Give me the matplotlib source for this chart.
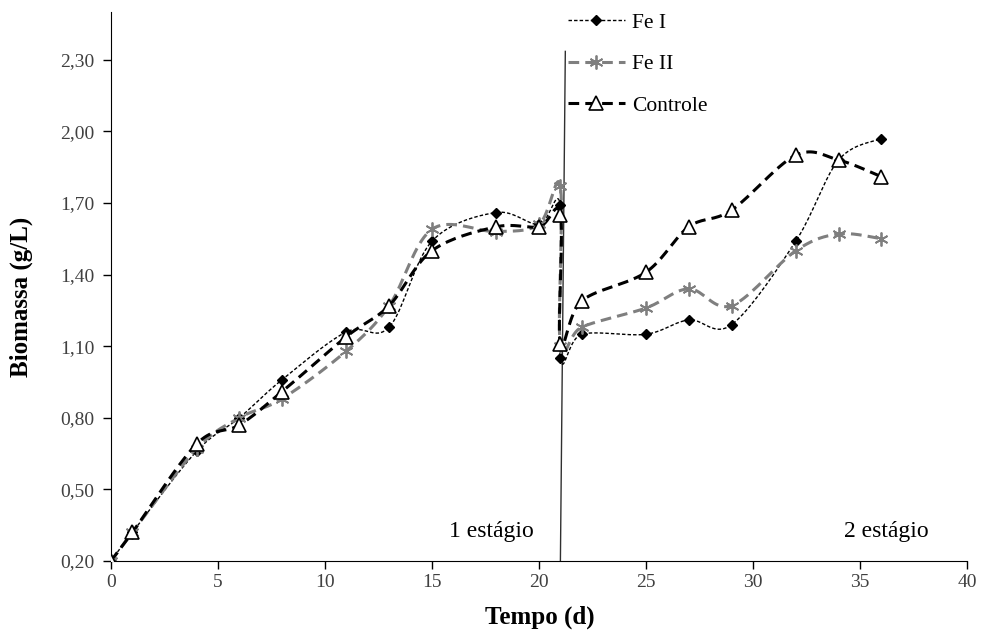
import numpy as np
import matplotlib.pyplot as plt
from matplotlib.lines import Line2D
from matplotlib.ticker import FuncFormatter

plt.rcParams['font.family'] = ['Liberation Serif', 'DejaVu Serif']

# time (d); the stage change at day 21 has a value before and after
tempo = [0, 1, 4, 6, 8, 11, 13, 15, 18, 20, 21, 21, 22, 25, 27, 29, 32, 34, 36]
fe1 = [0.20, 0.32, 0.66, 0.80, 0.96, 1.16, 1.18, 1.54, 1.66, 1.61, 1.69, 1.05,
       1.15, 1.15, 1.21, 1.19, 1.54, 1.88, 1.97]
fe2 = [0.20, 0.32, 0.67, 0.80, 0.88, 1.08, 1.27, 1.59, 1.58, 1.61, 1.77, 1.10,
       1.18, 1.26, 1.34, 1.27, 1.50, 1.57, 1.55]
controle = [0.20, 0.32, 0.69, 0.77, 0.91, 1.14, 1.27, 1.50, 1.60, 1.60, 1.65, 1.11,
            1.29, 1.41, 1.60, 1.67, 1.90, 1.88, 1.81]

# separator between the two stages (hand drawn, slightly slanted)
estagio_x = [21.0, 21.23]
estagio_y = [0.2, 2.335]
y_ticks = [0.20, 0.50, 0.80, 1.10, 1.40, 1.70, 2.00, 2.30]
x_ticks = [0, 5, 10, 15, 20, 25, 30, 35, 40]


def smooth(xs, ys, sx=21.5, sy=238.5, n=20):
    # excel-like smoothed line (cubic bezier through the points)
    p = np.column_stack([np.array(xs) * sx, np.array(ys) * sy])
    out = [p[0]]
    for i in range(len(p) - 1):
        p0 = p[i - 1] if i > 0 else p[i]
        p3 = p[i + 2] if i + 2 < len(p) else p[i + 1]
        c1 = p[i] + (p[i + 1] - p0) / 6
        c2 = p[i + 1] - (p3 - p[i]) / 6
        t = np.linspace(0, 1, n)[1:, None]
        seg = ((1 - t) ** 3 * p[i] + 3 * (1 - t) ** 2 * t * c1
               + 3 * (1 - t) * t ** 2 * c2 + t ** 3 * p[i + 1])
        out.extend(seg)
    out = np.array(out)
    return out[:, 0] / sx, out[:, 1] / sy


fig = plt.figure(figsize=(9.84, 6.33), dpi=100)
ax = fig.add_axes([111 / 984, 72 / 633, 856 / 984, 549 / 633])

styles = [
    ('Fe I', fe1, dict(color='black', lw=1.0, dashes=(2.5, 1.5)),
     dict(marker='D', ms=5.5, mfc='black', mec='black')),
    ('Fe II', fe2, dict(color='#7f7f7f', lw=2.2, dashes=(3.5, 2)),
     dict(marker=(6, 2, 0), ms=10, mfc='#7f7f7f', mec='#7f7f7f', mew=1.3)),
    ('Controle', controle, dict(color='black', lw=2.2, dashes=(3.5, 2)),
     dict(marker='^', ms=10, mfc='white', mec='black', mew=1.2)),
]

handles = []
for name, vals, lstyle, mstyle in styles:
    sx, sy = smooth(tempo, vals)
    ax.plot(sx, sy, **lstyle, zorder=2)
    ax.plot(tempo, vals, linestyle='none', **mstyle, zorder=3)
    handles.append(Line2D([], [], **lstyle, **mstyle))

ax.plot(estagio_x, estagio_y, color='#303030', lw=1.0, zorder=1)

ax.text(491 / 984, 1 - 532 / 633, '1 estágio', transform=fig.transFigure,
        ha='center', va='center', fontsize=17)
ax.text(886 / 984, 1 - 532 / 633, '2 estágio', transform=fig.transFigure,
        ha='center', va='center', fontsize=17)

ax.set_xlim(0, 40)
ax.set_ylim(0.2, 2.5)
ax.set_xticks(x_ticks)
ax.set_yticks(y_ticks)
ax.yaxis.set_major_formatter(FuncFormatter(lambda v, p: f'{v:.2f}'.replace('.', ',')))
ax.tick_params(labelsize=14, labelcolor='#404040', direction='out', length=6, width=1)
ax.tick_params(axis='y', pad=6)
ax.spines['top'].set_visible(False)
ax.spines['right'].set_visible(False)

ax.set_xlabel('Tempo (d)', fontsize=18, fontweight='bold')
ax.set_ylabel('Biomassa (g/L)', fontsize=18, fontweight='bold')
ax.xaxis.set_label_coords((540 - 111) / 856, -(606 - 561) / 549)
ax.yaxis.set_label_coords(-(111 - 33) / 856, (561 - 297) / 549)

fig.legend(handles, ['Fe I', 'Fe II', 'Controle'], loc='upper left',
           bbox_to_anchor=(559 / 984, 1 - 4 / 633), frameon=False, borderaxespad=0,
           fontsize=15.5, handlelength=2.65, labelspacing=1.0, handletextpad=0.35)

fig.savefig('out.png', dpi=100)
